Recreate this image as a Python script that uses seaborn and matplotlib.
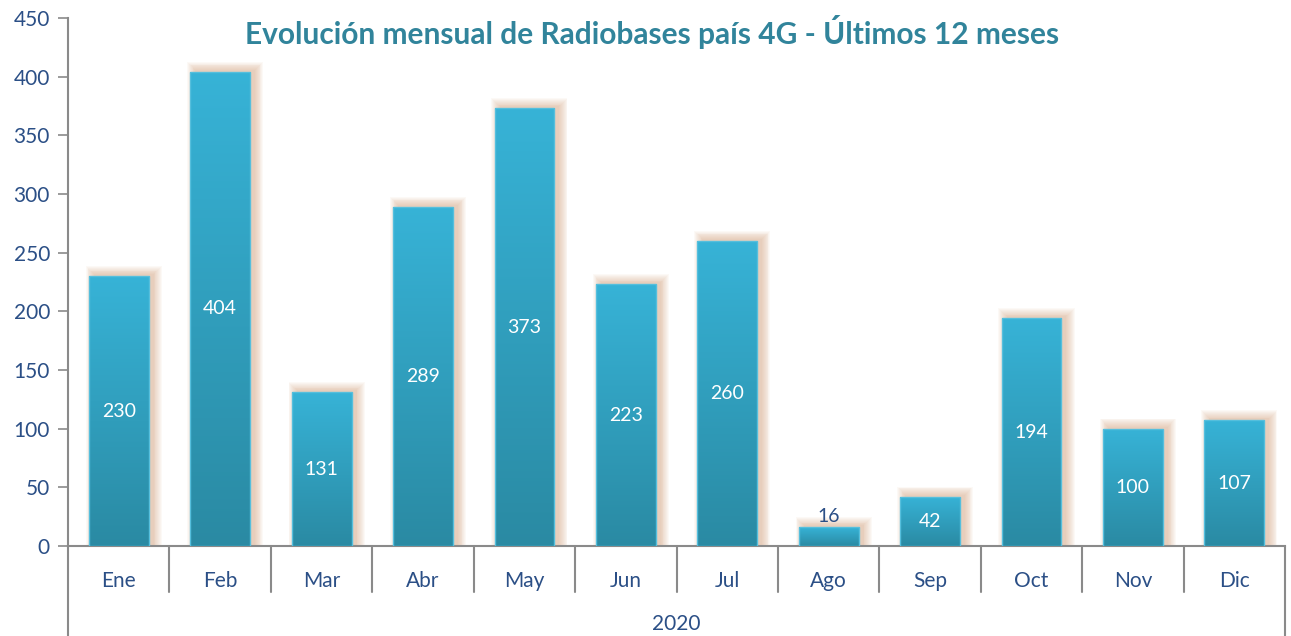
import numpy as np
import pandas as pd
import seaborn as sns
import matplotlib.pyplot as plt
from matplotlib.patches import Rectangle
from matplotlib.colors import LinearSegmentedColormap
import matplotlib.transforms as mtransforms

months = ['Ene', 'Feb', 'Mar', 'Abr', 'May', 'Jun',
          'Jul', 'Ago', 'Sep', 'Oct', 'Nov', 'Dic']
radiobases = [230, 404, 131, 289, 373, 223, 260, 16, 42, 194, 100, 107]
year_label = '2020'
title = 'Evolución mensual de Radiobases país 4G - Últimos 12 meses'

sns.set_style('white')
plt.rcParams['font.family'] = ['Lato', 'DejaVu Sans']

df = pd.DataFrame({'mes': months, 'valor': radiobases})

fig = plt.figure(figsize=(12.91, 6.36), dpi=100)
ax = fig.add_axes([0.0527, 0.1415, 0.9427, 0.8302])
sns.barplot(data=df, x='mes', y='valor', ax=ax, width=0.59,
            color='#33a9cc', saturation=1, zorder=3)

text_blue = '#2b4f86'
axis_gray = '#8a8a8a'
cmap = LinearSegmentedColormap.from_list('barfill', ['#2a8aa3', '#37b3d7'])
grad = np.linspace(0, 1, 256).reshape(-1, 1)

# pixel sizes in data units
px_x = 1.0 / 101.4
px_y = 450 / 528.0
for p in list(ax.patches):
    x, w, h = p.get_x(), p.get_width(), p.get_height()
    # soft orange glow, offset up/right
    for k in range(10):
        grow = k * 0.9
        sh = Rectangle((x + 5 * px_x - grow * px_x, 0),
                       w + 2 * grow * px_x,
                       h + 2 * px_y + grow * px_y,
                       facecolor='#d39a72', edgecolor='none',
                       alpha=0.06, zorder=1)
        ax.add_patch(sh)
    im = ax.imshow(grad, extent=[x, x + w, 0, h], origin='lower',
                   cmap=cmap, aspect='auto', zorder=3)
    im.set_clip_path(p)
    p.set_facecolor('none')
    p.set_edgecolor('#55bfdd')
    p.set_linewidth(1.0)
    p.set_zorder(4)

ax.set_xlim(-0.5, len(months) - 0.5)
ax.set_ylim(0, 450)
ax.set_yticks(range(0, 451, 50))
ax.set_xlabel('')
ax.set_ylabel('')

for i, v in enumerate(radiobases):
    if v < 30:
        ax.text(i, v + 2, str(v), ha='center', va='bottom',
                color=text_blue, fontsize=14, zorder=5)
    else:
        ax.text(i, v / 2, str(v), ha='center', va='center',
                color='white', fontsize=14, zorder=5)

sns.despine(ax=ax, top=True, right=True)
ax.spines['left'].set_color(axis_gray)
ax.spines['bottom'].set_color(axis_gray)
ax.spines['left'].set_linewidth(1.5)
ax.spines['bottom'].set_linewidth(1.5)
ax.tick_params(axis='y', direction='out', length=7, width=1.2,
               color=axis_gray, labelcolor=text_blue, labelsize=15, pad=6,
               left=True)
ax.tick_params(axis='x', length=0, labelcolor=text_blue, labelsize=15,
               pad=18)

# category separators and group frame
trans = mtransforms.blended_transform_factory(ax.transData, ax.transAxes)
sep_depth = 46 / 528.0
full_depth = 92 / 528.0
for b in np.arange(0.5, len(months) - 1, 1.0):
    ax.plot([b, b], [0, -sep_depth], transform=trans, color=axis_gray,
            lw=1.5, clip_on=False)
for b in (-0.5, len(months) - 0.5):
    ax.plot([b, b], [0, -full_depth], transform=trans, color=axis_gray,
            lw=1.5, clip_on=False)
ax.text(0.5, -78 / 528.0, year_label, transform=ax.transAxes,
        ha='center', va='center', color=text_blue, fontsize=15)

fig.text(652 / 1291, 1 - 32 / 636, title, ha='center', va='center',
         color='#31849b', fontsize=21.5, fontweight='bold')

fig.savefig('out.png', dpi=100)
